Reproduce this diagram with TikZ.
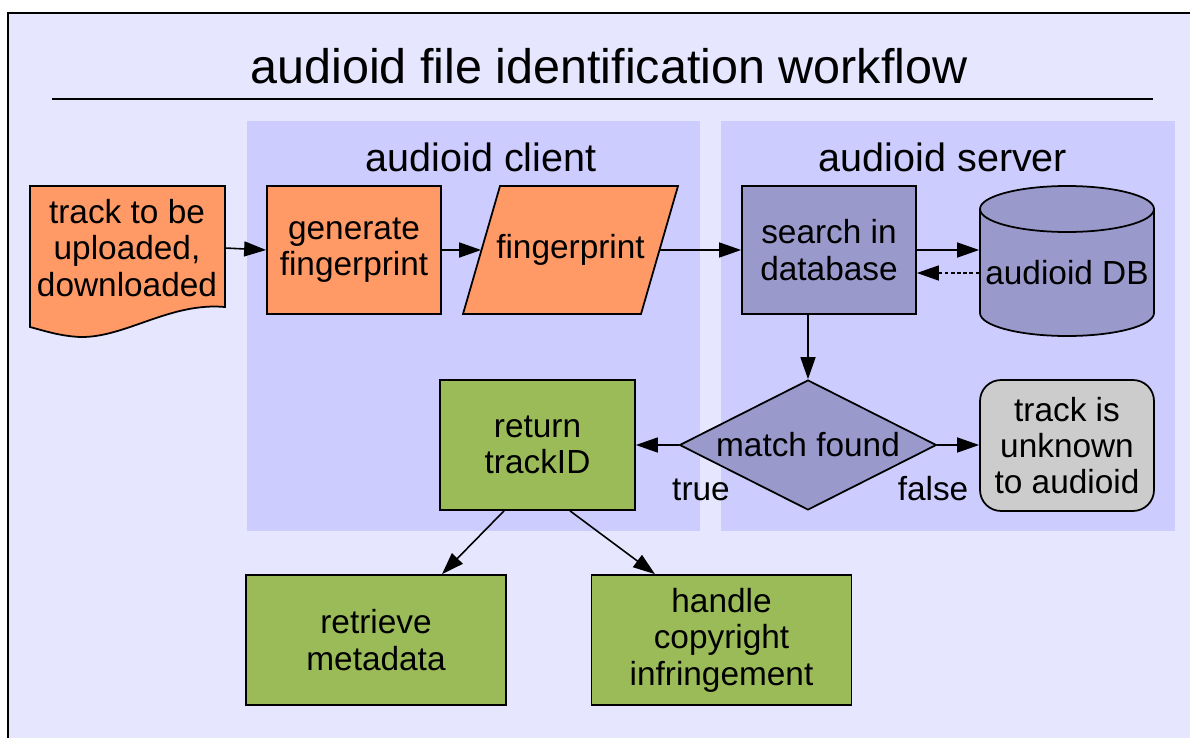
\documentclass[tikz,border=0pt]{standalone}
\usepackage{fontspec}
\setmainfont{Liberation Sans}
\usetikzlibrary{shapes.geometric,arrows.meta}
\definecolor{bgcol}{HTML}{E6E6FF}
\definecolor{lanecol}{HTML}{CCCCFF}
\definecolor{orangecol}{HTML}{FF9966}
\definecolor{servercol}{HTML}{9999CC}
\definecolor{greencol}{HTML}{9BBB59}
\definecolor{graycol}{HTML}{CCCCCC}
\begin{document}
\begin{tikzpicture}[x=0.02cm, y=-0.02cm,
        every node/.style={
            font=\fontsize{19}{20.7}\selectfont,
            align=center},
        box/.style={
            rectangle,
            draw=black, line width=1pt,
            minimum width=3.48cm,
            minimum height=2.56cm},
        lanelabel/.style={
            font=\fontsize{22.5}{24}\selectfont},
        arrow/.style={
            line width=0.9pt,
            -{Triangle[length=0.44cm, width=0.3cm]}}
        ]

        \useasboundingbox (0,0) rectangle (1190,737);
        \draw [line width=1.1pt, fill=bgcol] (8,13) rectangle (1230,760);

        % title
        \node (title) at (609,66) {\fontsize{27.6}{30}\selectfont audioid file identification workflow};
        \draw [line width=1pt] (52,99) -- (1153,99);

        % lanes
        \fill [lanecol] (247,121) rectangle (700,531);
        \fill [lanecol] (721,121) rectangle (1175,531);
        \node (client) [lanelabel] at (481,157) {audioid client};
        \node (server) [lanelabel] at (943,157) {audioid server};

        % document shape, data shape and database drum
        \filldraw [fill=orangecol, line width=1pt] (30,186) -- (225,186) -- (225,307)
            .. controls (170,302) and (125,338) .. (80,337)
            .. controls (60,336) and (45,331) .. (30,327) -- cycle;
        \filldraw [fill=orangecol, line width=1pt] (500,186) -- (678,186) -- (641,314) -- (463,314) -- cycle;
        \filldraw [fill=servercol, line width=1pt] (980,209) -- (980,313)
            arc [start angle=180, end angle=0, x radius=87, y radius=23] -- (1154,209)
            arc [start angle=0, end angle=-180, x radius=87, y radius=23] -- cycle;
        \draw [line width=1pt] (980,209) arc [start angle=180, end angle=0, x radius=87, y radius=23];

        \node (track) [minimum width=3.9cm] at (127,248) {track to be\\uploaded,\\downloaded};
        \node (gen) [box, fill=orangecol] at (354,250) {generate\\fingerprint};
        \node (fp) [minimum width=4.3cm, minimum height=2.56cm] at (570.5,250) {fingerprint};
        \node (search) [box, fill=servercol] at (829,250) {search in\\database};
        \node (db) [minimum width=3.48cm] at (1067,273) {audioid DB};
        \node (match) [diamond, aspect=1.98, draw=black, line width=1pt, fill=servercol,
            minimum width=5.14cm, minimum height=2.6cm, inner sep=0pt] at (808,445) {match found};
        \node (ret) [box, fill=greencol, minimum width=3.9cm, minimum height=2.6cm] at (537.5,445) {return\\trackID};
        \node (unknown) [box, fill=graycol, rounded corners=0.42cm, minimum height=2.62cm] at (1067,445.5) {track is\\unknown\\to audioid};
        \node (meta) [box, fill=greencol, minimum width=5.2cm, minimum height=2.6cm] at (376,640) {retrieve\\metadata};
        \node (copy) [box, fill=greencol, minimum width=5.2cm, minimum height=2.6cm] at (721.5,640) {handle\\copyright\\infringement};
        \node (true) at (701,490) {true};
        \node (false) at (933,489) {false};

        \draw [arrow] (track.east) -- (gen.west);
        \draw [arrow] (gen.east) -- ([xshift=0.37cm]fp.west);
        \draw [arrow] ([xshift=-0.37cm]fp.east) -- (search.west);
        \draw [arrow] (search.east) -- (search.east -| db.west);
        \draw [arrow, dash pattern=on 2pt off 1.5pt] (db.west) -- (db.west -| search.east);
        \draw [arrow] (search.south -| match.north) -- (match.north);
        \draw [arrow] (match.west) -- (match.west -| ret.east);
        \draw [arrow] (match.east) -- (match.east -| unknown.west);
        \draw [arrow] ([xshift=-0.67cm]ret.south) -- ([xshift=1.32cm]meta.north);
        \draw [arrow] ([xshift=0.65cm]ret.south) -- ([xshift=-1.33cm]copy.north);

        \end{tikzpicture}
\end{document}
